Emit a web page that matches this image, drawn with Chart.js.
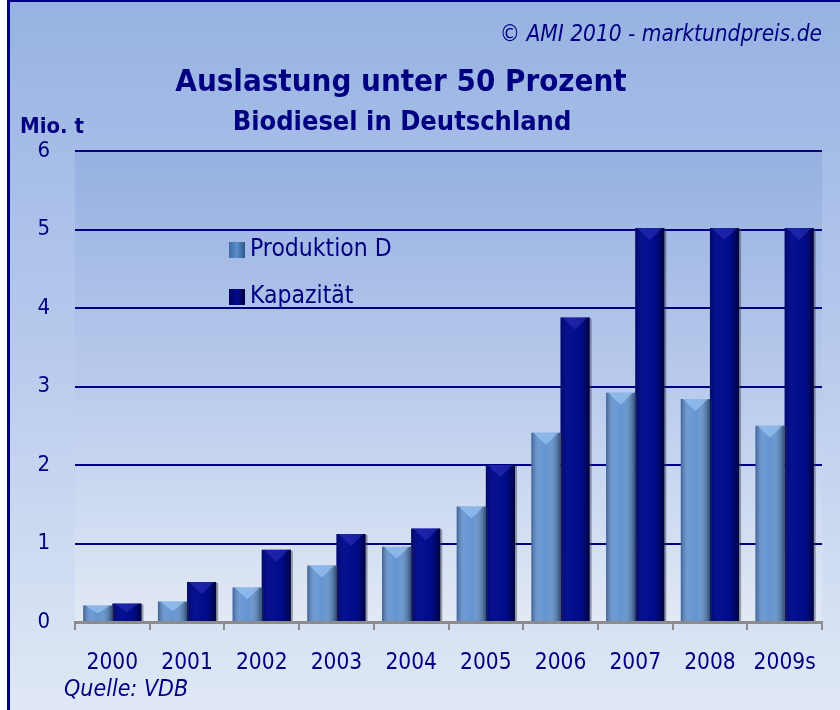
<!DOCTYPE html>
<html>
<head>
<meta charset="utf-8">
<script src="https://cdn.jsdelivr.net/npm/chart.js@4.4.1/dist/chart.umd.min.js"></script>
<style>
html,body{margin:0;padding:0;background:#ffffff;}
#wrap{width:840px;height:710px;}
</style>
</head>
<body>
<div id="wrap"><canvas id="c" width="840" height="710"></canvas></div>
<script>
const years = ['2000','2001','2002','2003','2004','2005','2006','2007','2008','2009s'];
const produktion = [0.21, 0.26, 0.44, 0.72, 0.96, 1.47, 2.41, 2.92, 2.84, 2.50];
const kapazitaet = [0.235, 0.51, 0.92, 1.12, 1.19, 2.0, 3.88, 5.02, 5.02, 5.02];
const yTicks = [0, 1, 2, 3, 4, 5, 6];
const seriesNames = ['Produktion D', 'Kapazität'];
const titleText = 'Auslastung unter 50 Prozent';
const subtitleText = 'Biodiesel in Deutschland';
const unitText = 'Mio. t';
const copyrightText = '© AMI 2010 - marktundpreis.de';
const sourceText = 'Quelle: VDB';

const NAVY = '#000080';
const FONT = '"DejaVu Sans Condensed", "DejaVu Sans", sans-serif';

const decorPlugin = {
  id: 'decor',
  beforeDraw(chart) {
    const ctx = chart.ctx, W = chart.width, H = chart.height, a = chart.chartArea;
    ctx.save();
    ctx.fillStyle = '#ffffff';
    ctx.fillRect(0, 0, W, H);
    let g = ctx.createLinearGradient(0, 0, 0, H);
    g.addColorStop(0, '#97b2e2');
    g.addColorStop(0.45, '#b4c8ec');
    g.addColorStop(1, '#e0e8f5');
    ctx.fillStyle = g;
    ctx.fillRect(8, 0, W - 8, H);
    let g2 = ctx.createLinearGradient(0, a.top, 0, a.bottom);
    g2.addColorStop(0, '#95b0e1');
    g2.addColorStop(0.5, '#b9cbec');
    g2.addColorStop(1, '#e2e9f5');
    ctx.fillStyle = g2;
    ctx.fillRect(a.left, a.top, a.right - a.left, a.bottom - a.top);
    ctx.fillStyle = NAVY;
    ctx.fillRect(7, 0, 3, H);
    ctx.fillRect(7, 0, W - 7, 2);
    ctx.restore();
  },
  afterDatasetsDraw(chart) {
    const ctx = chart.ctx;
    ctx.save();
    chart.data.datasets.forEach((ds, di) => {
      const meta = chart.getDatasetMeta(di);
      meta.data.forEach(bar => {
        const p = bar.getProps(['x', 'y', 'base', 'width'], true);
        const l = p.x - p.width / 2, r = p.x + p.width / 2;
        const t = p.y, b = p.base;
        const g = ctx.createLinearGradient(l, 0, r, 0);
        if (di === 0) {
          g.addColorStop(0, 'rgba(20,40,80,0.45)');
          g.addColorStop(0.3, 'rgba(255,255,255,0.10)');
          g.addColorStop(0.55, 'rgba(255,255,255,0.05)');
          g.addColorStop(1, 'rgba(10,25,50,0.55)');
        } else {
          g.addColorStop(0, 'rgba(0,0,40,0.35)');
          g.addColorStop(0.35, 'rgba(60,60,200,0.10)');
          g.addColorStop(0.7, 'rgba(0,0,40,0.05)');
          g.addColorStop(1, 'rgba(0,0,20,0.65)');
        }
        ctx.fillStyle = g;
        ctx.fillRect(l, t, r - l, b - t);
        const h = Math.min(12, (b - t) / 2);
        ctx.beginPath();
        ctx.moveTo(l + 2, t);
        ctx.lineTo(r - 2, t);
        ctx.lineTo(p.x, t + h);
        ctx.closePath();
        ctx.fillStyle = di === 0 ? 'rgba(170,210,255,0.55)' : 'rgba(60,60,200,0.45)';
        ctx.fill();
        ctx.fillStyle = 'rgba(60,60,70,0.45)';
        ctx.fillRect(r, t + 1, 2, b - t - 1);
      });
    });
    ctx.restore();
  },
  afterDraw(chart) {
    const ctx = chart.ctx;
    ctx.save();
    ctx.fillStyle = NAVY;
    ctx.textBaseline = 'middle';
    ctx.font = 'italic 22.5px ' + FONT;
    ctx.textAlign = 'right';
    ctx.fillText(copyrightText, 822, 35);
    ctx.textAlign = 'center';
    ctx.font = 'bold 31px ' + FONT;
    ctx.fillText(titleText, 401, 83);
    ctx.font = 'bold 27px ' + FONT;
    ctx.fillText(subtitleText, 402, 123);
    ctx.textAlign = 'left';
    ctx.font = 'bold 22px ' + FONT;
    ctx.fillText(unitText, 20, 127);
    ctx.font = 'italic 23px ' + FONT;
    ctx.fillText(sourceText, 64, 690);
    const colors = ['#5c8fcf', '#000c8c'];
    const ly = [250, 297];
    ctx.font = '24.5px ' + FONT;
    seriesNames.forEach((n, i) => {
      const g = ctx.createLinearGradient(229, 0, 245, 0);
      g.addColorStop(0, i === 0 ? '#3d6da3' : '#00005a');
      g.addColorStop(0.5, colors[i]);
      g.addColorStop(1, i === 0 ? '#2c5585' : '#000040');
      ctx.fillStyle = g;
      ctx.fillRect(229, ly[i] - 8, 16, 16);
      ctx.fillStyle = NAVY;
      ctx.fillText(n, 250, ly[i]);
    });
    ctx.restore();
  }
};

new Chart(document.getElementById('c'), {
  type: 'bar',
  data: {
    labels: years,
    datasets: [
      { label: seriesNames[0], data: produktion, backgroundColor: '#5c8fcf', borderWidth: 0, categoryPercentage: 0.78, barPercentage: 1.0 },
      { label: seriesNames[1], data: kapazitaet, backgroundColor: '#000c8c', borderWidth: 0, categoryPercentage: 0.78, barPercentage: 1.0 }
    ]
  },
  options: {
    responsive: false,
    animation: false,
    devicePixelRatio: 1,
    layout: { padding: { left: 20, right: 18, top: 151, bottom: 4 } },
    plugins: { legend: { display: false }, title: { display: false }, tooltip: { enabled: false } },
    scales: {
      x: {
        grid: { offset: true, drawOnChartArea: false, color: '#8c8c8c', lineWidth: 2, tickLength: 8 },
        border: { color: '#8c8c8c', width: 3 },
        ticks: { color: NAVY, font: { family: FONT, size: 22.5 }, padding: 20, maxRotation: 0, autoSkip: false },
        afterFit(s) { s.height = 84; }
      },
      y: {
        min: yTicks[0], max: yTicks[yTicks.length - 1],
        afterBuildTicks(s) { s.ticks = yTicks.map(v => ({ value: v })); },
        grid: { color: ctx => ctx.index === 0 ? 'rgba(0,0,0,0)' : NAVY, lineWidth: 2, drawTicks: false },
        border: { display: false },
        ticks: { color: NAVY, font: { family: FONT, size: 22 }, padding: 25 },
        afterFit(s) { s.width = 55; }
      }
    }
  },
  plugins: [decorPlugin]
});
</script>
</body>
</html>
